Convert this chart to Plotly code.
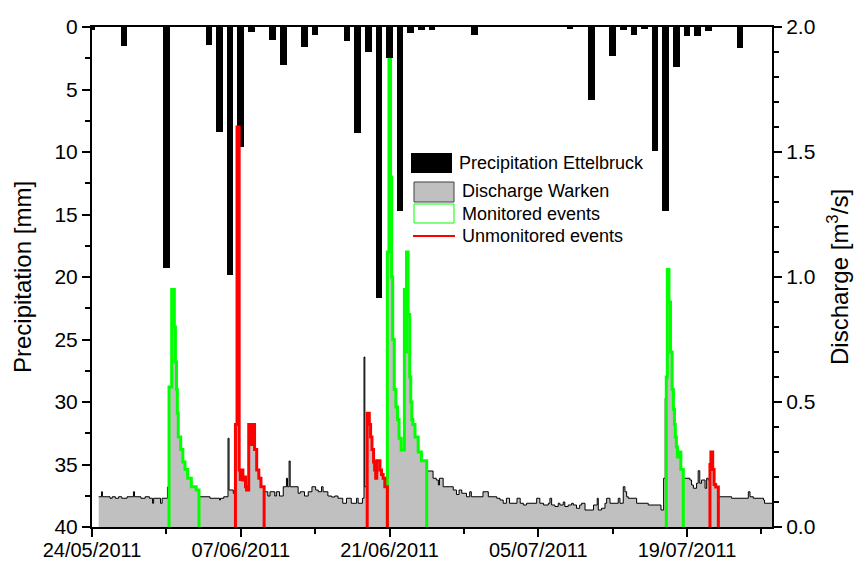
import pandas as pd
import plotly.graph_objects as go

START = pd.Timestamp("2011-05-24")
END = pd.Timestamp("2011-07-27")
DAY_MS = 86400000

# Daily precipitation at Ettelbruck [mm]
precip_dates = [
    "2011-05-24", "2011-05-27", "2011-05-31", "2011-06-04", "2011-06-05",
    "2011-06-06", "2011-06-07", "2011-06-08", "2011-06-10", "2011-06-11",
    "2011-06-13", "2011-06-14", "2011-06-17", "2011-06-18", "2011-06-19",
    "2011-06-20", "2011-06-21", "2011-06-22", "2011-06-23", "2011-06-24",
    "2011-06-25", "2011-06-29", "2011-07-08", "2011-07-10", "2011-07-12",
    "2011-07-13", "2011-07-14", "2011-07-15", "2011-07-16", "2011-07-17",
    "2011-07-18", "2011-07-19", "2011-07-20", "2011-07-21", "2011-07-24",
]
precip_mm = [
    0.2, 1.5, 19.3, 1.4, 8.4,
    19.8, 9.6, 0.4, 1.0, 3.0,
    1.6, 0.6, 1.1, 8.5, 2.0,
    21.7, 2.5, 14.7, 0.5, 0.25,
    0.25, 0.6, 0.1, 5.8, 2.3,
    0.2, 0.6, 0.1, 9.9, 14.7,
    3.2, 0.7, 0.7, 0.3, 1.7,
]

# Discharge at Warken [m3/s] as a step series: (days after 24/05/2011, value)
discharge = [
    (0.63, 0.121), (0.90, 0.141), (0.98, 0.121), (1.70, 0.115), (1.90, 0.121),
    (2.20, 0.115), (2.50, 0.121), (2.80, 0.115), (3.30, 0.121), (3.90, 0.141),
    (4.00, 0.121), (4.60, 0.115), (5.00, 0.121), (5.40, 0.115), (5.70, 0.095),
    (5.80, 0.115), (6.45, 0.095), (6.60, 0.115), (7.10, 0.160),
    (7.25, 0.56), (7.50, 0.95), (7.75, 0.80), (7.85, 0.66), (7.95, 0.55),
    (8.03, 0.456), (8.12, 0.36), (8.35, 0.31), (8.55, 0.26), (8.75, 0.23),
    (9.00, 0.195), (9.35, 0.161), (9.80, 0.148),
    (10.07, 0.121), (11.10, 0.115), (12.00, 0.108), (12.10, 0.115), (12.40, 0.121),
    (12.80, 0.355), (12.90, 0.148), (13.30, 0.135),
    (13.50, 0.41), (13.65, 1.60), (13.85, 0.228), (13.95, 0.19), (14.05, 0.228),
    (14.20, 0.188), (14.35, 0.20), (14.45, 0.161), (14.55, 0.148), (14.75, 0.41),
    (14.90, 0.33), (15.10, 0.41), (15.30, 0.31), (15.50, 0.228), (15.70, 0.195),
    (15.90, 0.161),
    (16.20, 0.141), (16.55, 0.124), (16.75, 0.141), (17.20, 0.124), (17.35, 0.141),
    (17.65, 0.124), (18.00, 0.161), (18.30, 0.195), (18.40, 0.161), (18.55, 0.264),
    (18.65, 0.161), (19.40, 0.135), (19.60, 0.141), (20.00, 0.124), (20.35, 0.141),
    (20.70, 0.161), (21.05, 0.148), (21.30, 0.141), (21.60, 0.161), (21.75, 0.141),
    (22.20, 0.124), (22.55, 0.120), (22.85, 0.124), (23.15, 0.115), (23.60, 0.095),
    (23.95, 0.115), (24.40, 0.095), (24.90, 0.115), (25.05, 0.095), (25.45, 0.115),
    (25.60, 0.68), (25.68, 0.161),
    (25.90, 0.455), (26.10, 0.41), (26.22, 0.36), (26.35, 0.31), (26.50, 0.26),
    (26.60, 0.228), (26.70, 0.195), (26.80, 0.265), (27.10, 0.228), (27.25, 0.21),
    (27.40, 0.195), (27.56, 0.161),
    (27.80, 1.10), (27.95, 1.87), (28.10, 1.40), (28.20, 1.00), (28.30, 0.75),
    (28.45, 0.55), (28.60, 0.48), (28.75, 0.43), (28.90, 0.355), (29.10, 0.308),
    (29.40, 0.95), (29.50, 0.70), (29.60, 1.10), (29.75, 0.85), (29.90, 0.60),
    (30.00, 0.50), (30.10, 0.43), (30.20, 0.41), (30.40, 0.36), (30.70, 0.30),
    (31.00, 0.265),
    (31.50, 0.224), (32.10, 0.195), (32.40, 0.188), (32.60, 0.168), (32.70, 0.195),
    (33.05, 0.161), (34.00, 0.148), (34.30, 0.130), (34.55, 0.148), (34.80, 0.135),
    (35.25, 0.121), (35.55, 0.141), (35.70, 0.121), (36.80, 0.141), (37.30, 0.121),
    (38.10, 0.115), (38.40, 0.108), (38.70, 0.095), (39.00, 0.115), (39.30, 0.095),
    (40.00, 0.115), (40.30, 0.095), (40.60, 0.088), (40.90, 0.095), (41.85, 0.115),
    (42.15, 0.095), (42.50, 0.088), (42.95, 0.095), (43.10, 0.115), (43.26, 0.088),
    (43.57, 0.082), (43.88, 0.095), (44.04, 0.088), (44.35, 0.100), (44.50, 0.082),
    (44.82, 0.088), (45.14, 0.095), (45.30, 0.088), (45.60, 0.075), (45.90, 0.088),
    (46.08, 0.095), (46.40, 0.068), (47.20, 0.088), (47.55, 0.115), (47.65, 0.068),
    (47.96, 0.075), (48.28, 0.095), (48.44, 0.115), (48.75, 0.095), (49.53, 0.115),
    (49.69, 0.095), (50.00, 0.161), (50.16, 0.141), (50.32, 0.121), (50.47, 0.115),
    (51.26, 0.095), (52.35, 0.088), (53.55, 0.068), (53.80, 0.195), (53.95, 0.515),
    (54.05, 0.60), (54.15, 1.03), (54.30, 0.90), (54.45, 0.70), (54.60, 0.55),
    (54.72, 0.47), (54.82, 0.41), (54.90, 0.36), (55.00, 0.32), (55.10, 0.28),
    (55.26, 0.30), (55.42, 0.23),
    (55.65, 0.195), (56.27, 0.188), (56.43, 0.168), (56.60, 0.155), (56.90, 0.175),
    (57.05, 0.225), (57.20, 0.175), (57.37, 0.188), (57.70, 0.155), (57.85, 0.195),
    (58.00, 0.188),
    (58.16, 0.25), (58.25, 0.30), (58.42, 0.23), (58.55, 0.17), (58.70, 0.16),
    (58.95, 0.121), (60.20, 0.115), (61.77, 0.141), (61.93, 0.121), (62.24, 0.115),
    (63.20, 0.108), (63.30, 0.095), (64.00, 0.095),
]

# Event windows (days after 24/05/2011)
monitored_events = [(7.25, 10.07), (27.80, 31.50), (54.05, 55.65)]
unmonitored_events = [(13.50, 16.20), (25.90, 27.80), (58.16, 58.95)]

LEGEND_LABELS = ["Precipitation Ettelbruck", "Discharge Warken",
                 "Monitored events", "Unmonitored events"]


def to_time(days):
    return [None if d is None else START + pd.to_timedelta(d, unit="D") for d in days]


q_days = [d for d, _ in discharge]
q_vals = [v for _, v in discharge]


def event_path(windows):
    xs, ys = [], []
    for s, e in windows:
        pts = [(d, v) for d, v in discharge if s - 1e-9 <= d < e - 1e-9]
        xs += [s] + [d for d, _ in pts] + [e, None]
        ys += [0] + [v for _, v in pts] + [0, None]
    return xs, ys


fig = go.Figure()

fig.add_trace(go.Bar(
    x=pd.to_datetime(precip_dates), y=precip_mm, base=0,
    width=0.63 * DAY_MS, marker=dict(color="black", line=dict(width=0)),
    name=LEGEND_LABELS[0], yaxis="y",
))

fig.add_trace(go.Scatter(
    x=to_time(q_days), y=q_vals, mode="lines", line_shape="hv",
    line=dict(color="black", width=1), fill="tozeroy", fillcolor="#c0c0c0",
    name=LEGEND_LABELS[1], yaxis="y2",
))

mx, my = event_path(monitored_events)
fig.add_trace(go.Scatter(
    x=to_time(mx), y=my, mode="lines", line_shape="hv",
    line=dict(color="#00ff00", width=3), name=LEGEND_LABELS[2], yaxis="y2",
))

ux, uy = event_path(unmonitored_events)
fig.add_trace(go.Scatter(
    x=to_time(ux), y=uy, mode="lines", line_shape="hv",
    line=dict(color="#ff0000", width=3), name=LEGEND_LABELS[3], yaxis="y2",
))

# plot area in pixels: x 92..772, y 27..527
L, R, T, B = 92, 772, 27, 527


def px(x):
    return (x - L) / (R - L)


def py(y):
    return (B - y) / (B - T)


axis_common = dict(showline=True, linewidth=2, linecolor="black", ticks="outside",
                   ticklen=8, tickwidth=2, tickcolor="black", showgrid=False,
                   zeroline=False, automargin=False)

fig.update_layout(
    width=861, height=563,
    margin=dict(l=L, r=861 - R, t=T, b=563 - B, autoexpand=False),
    plot_bgcolor="white", paper_bgcolor="white",
    font=dict(family="Arial, Liberation Sans, sans-serif", size=21, color="black"),
    showlegend=False, bargap=0,
    xaxis=dict(type="date", range=[START, END], tickmode="linear", tick0=START,
               dtick=14 * DAY_MS, tickformat="%d/%m/%Y", mirror=True,
               ticklabelstandoff=-4, tickfont=dict(size=20),
               minor=dict(tick0=START, dtick=7 * DAY_MS, ticks="outside", ticklen=5,
                          tickwidth=2, tickcolor="black", showgrid=False),
               **axis_common),
    yaxis=dict(range=[40, 0], tickmode="linear", tick0=0, dtick=5,
               minor=dict(dtick=2.5, ticks="outside", ticklen=5, tickwidth=2,
                          tickcolor="black", showgrid=False),
               **axis_common),
    yaxis2=dict(range=[0, 2], overlaying="y", side="right", tickmode="linear",
                tick0=0, dtick=0.5, tickformat=".1f",
                minor=dict(dtick=0.1, ticks="outside", ticklen=5, tickwidth=2,
                           tickcolor="black", showgrid=False),
                **axis_common),
)

# axis titles
fig.add_annotation(text="Precipitation [mm]", x=px(22), y=0.5, xref="paper", yref="paper",
                   textangle=-90, showarrow=False, font=dict(size=24),
                   xanchor="center", yanchor="middle")
fig.add_annotation(text="Discharge [m<sup>3</sup>/s]", x=px(838), y=0.5, xref="paper",
                   yref="paper", textangle=-90, showarrow=False, font=dict(size=24),
                   xanchor="center", yanchor="middle")

# legend box inside the plot
shapes = [
    dict(type="rect", x0=px(411), x1=px(452), y0=py(173), y1=py(153),
         fillcolor="black", line=dict(width=0)),
    dict(type="rect", x0=px(414), x1=px(454), y0=py(202), y1=py(182),
         fillcolor="#c0c0c0", line=dict(color="#404040", width=1)),
    dict(type="rect", x0=px(414), x1=px(454), y0=py(223), y1=py(204),
         fillcolor="white", line=dict(color="#00ff00", width=1)),
    dict(type="line", x0=px(413), x1=px(455), y0=py(236), y1=py(236),
         line=dict(color="#ff0000", width=2)),
]
for s in shapes:
    s.update(xref="paper", yref="paper", layer="above")
    fig.add_shape(**s)

for label, lx, ly in zip(LEGEND_LABELS, [457, 460, 460, 460], [163, 191, 214, 236]):
    fig.add_annotation(text=label, x=px(lx), y=py(ly), xref="paper", yref="paper",
                       showarrow=False, xanchor="left", yanchor="middle",
                       font=dict(size=18))

fig.write_html("out.html")
